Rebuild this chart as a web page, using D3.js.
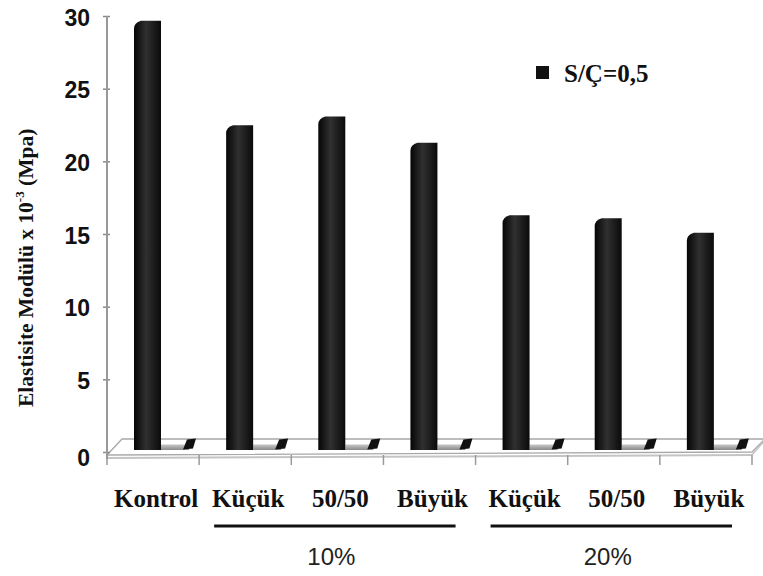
<!DOCTYPE html>
<html>
<head>
<meta charset="utf-8">
<script src="https://cdn.jsdelivr.net/npm/d3@7"></script>
<style>
  body { margin: 0; background: #fff; }
  svg { display: block; }
</style>
</head>
<body>
<div id="chart"></div>
<script>
// values
var categories = ["Kontrol", "Küçük", "50/50", "Büyük", "Küçük ", "50/50 ", "Büyük "],
	labels = ["Kontrol", "Küçük", "50/50", "Büyük", "Küçük", "50/50", "Büyük"],
	series1 = [29.2, 22.0, 22.6, 20.8, 15.8, 15.6, 14.6],   // S/Ç=0,5
	series2 = [0.45, 0.45, 0.45, 0.45, 0.45, 0.45, 0.45],   // near-empty back series
	groups = [{name: "10%", from: 1, to: 3}, {name: "20%", from: 4, to: 6}],
	yTicks = [0, 5, 10, 15, 20, 25, 30],
	legendLabel = "S/Ç=0,5";

var width = 763,
	height = 576;

var svg = d3.select('#chart')
	.append('svg')
	.attr('width', width)
	.attr('height', height);

var x = d3.scaleBand()
	.domain(categories)
	.range([107, 752])
	.paddingInner(0)
	.paddingOuter(0);

var y = d3.scaleLinear()
	.domain([0, 30])
	.range([452, 16]);

var bw = x.bandwidth();

var defs = svg.append('defs');
var grad = defs.append('linearGradient').attr('id', 'barGrad');
grad.append('stop').attr('offset', '0%').attr('stop-color', '#050505');
grad.append('stop').attr('offset', '45%').attr('stop-color', '#303030');
grad.append('stop').attr('offset', '100%').attr('stop-color', '#0a0a0a');
var grad2 = defs.append('linearGradient').attr('id', 'greyGrad').attr('x2', 0).attr('y2', 1);
grad2.append('stop').attr('offset', '0%').attr('stop-color', '#c8c8c8');
grad2.append('stop').attr('offset', '100%').attr('stop-color', '#8a8a8a');

// floor of the 3d plot
var x0 = x.range()[0], x1 = x.range()[1];
var floorFront = y(0) + 3, floorBack = y(0) - 13;
svg.append('path')
	.attr('d', 'M' + x0 + ',' + floorFront + 'L' + (x0 + 15) + ',' + floorBack +
		'L' + (x1 + 13) + ',' + floorBack + 'L' + x1 + ',' + (floorFront - 3) + 'Z')
	.style('fill', '#fff')
	.style('stroke', '#a8a8a8')
	.style('stroke-width', 1.3);
svg.append('line')
	.attr('x1', x0).attr('y1', floorFront + 3)
	.attr('x2', x1).attr('y2', floorFront)
	.style('stroke', '#c4c4c4')
	.style('stroke-width', 2);
svg.append('line')
	.attr('x1', x1).attr('y1', floorFront)
	.attr('x2', x1 + 13).attr('y2', floorBack + 1)
	.style('stroke', '#c4c4c4')
	.style('stroke-width', 1.5);

// category ticks on the front edge
svg.selectAll('.xtick')
	.data(categories.concat(['end']))
	.enter()
	.append('line')
	.attr('class', 'xtick')
	.attr('x1', function(d, i) { return x0 + i * bw; })
	.attr('x2', function(d, i) { return x0 + i * bw; })
	.attr('y1', floorFront)
	.attr('y2', floorFront + 10)
	.style('stroke', '#9a9a9a')
	.style('stroke-width', 1.5);

// back series: flat grey slabs with dark caps
var g2 = svg.append('g');
g2.selectAll('rect')
	.data(series2)
	.enter()
	.append('rect')
	.attr('x', function(d, i) { return x(categories[i]) + 54; })
	.attr('y', function(d) { return y(d) - 1; })
	.attr('width', 28)
	.attr('height', function(d) { return y(0) - y(d) - 1; })
	.style('fill', 'url(#greyGrad)');
g2.selectAll('path')
	.data(series2)
	.enter()
	.append('path')
	.attr('d', function(d, i) {
		var bx = x(categories[i]) + 76, by = y(d);
		return 'M' + bx + ',' + (by + 4) + 'L' + (bx + 4) + ',' + (by - 6) +
			'L' + (bx + 13) + ',' + (by - 7) + 'L' + (bx + 10) + ',' + (by + 3) + 'Z';
	})
	.style('fill', '#111');

// main series bars
var g1 = svg.append('g');
g1.selectAll('path')
	.data(series1)
	.enter()
	.append('path')
	.attr('d', function(d, i) {
		var bx = x(categories[i]) + 27, w = 27, top = y(d), bot = y(0) - 2;
		return 'M' + bx + ',' + bot + 'L' + bx + ',' + (top + 1) +
			'Q' + bx + ',' + (top - 5) + ' ' + (bx + 7) + ',' + (top - 7) +
			'L' + (bx + w) + ',' + (top - 7) + 'L' + (bx + w) + ',' + bot + 'Z';
	})
	.style('fill', 'url(#barGrad)');

// y axis
var yAxis = d3.axisLeft(y)
	.tickValues(yTicks)
	.tickSize(4)
	.tickPadding(13);
var ga = svg.append('g')
	.attr('transform', 'translate(107,0)')
	.call(yAxis);
ga.select('.domain').remove();
ga.selectAll('.tick line')
	.attr('x2', -4).attr('x1', 3)
	.style('stroke', '#888')
	.style('stroke-width', 1.5);
ga.selectAll('.tick text')
	.attr('dy', function(d) { return d === 0 ? '0.6em' : '0.4em'; })
	.style('font-family', '"Liberation Sans", Arial, sans-serif')
	.style('font-weight', 'bold')
	.style('font-size', '23px')
	.style('fill', '#111');
svg.append('line')
	.attr('x1', 107).attr('x2', 107)
	.attr('y1', y(30)).attr('y2', floorFront + 4)
	.style('stroke', '#999')
	.style('stroke-width', 2);

// y title, starts at the bottom and runs upwards
var title = svg.append('text')
	.attr('transform', 'translate(33,407) rotate(-90)')
	.attr('text-anchor', 'start')
	.style('font-family', '"Liberation Serif", "Times New Roman", serif')
	.style('font-weight', 'bold')
	.style('font-size', '21.5px')
	.style('fill', '#111');
title.append('tspan').text('Elastisite Modülü x 10');
title.append('tspan').attr('dy', -9).style('font-size', '13px').text('-3');
title.append('tspan').attr('dy', 9).text(' (Mpa)');

// category labels
svg.selectAll('.xlabel')
	.data(labels)
	.enter()
	.append('text')
	.attr('class', 'xlabel')
	.attr('x', function(d, i) { return x(categories[i]) + bw / 2 + 3; })
	.attr('y', 507)
	.attr('text-anchor', 'middle')
	.style('font-family', '"Liberation Serif", "Times New Roman", serif')
	.style('font-weight', 'bold')
	.style('font-size', '25px')
	.style('fill', '#111')
	.text(function(d) { return d; });

// group lines and labels
var gg = svg.selectAll('.group')
	.data(groups)
	.enter()
	.append('g')
	.attr('class', 'group');
gg.append('line')
	.attr('x1', function(d) { return x(categories[d.from]) + 15; })
	.attr('x2', function(d) { return x(categories[d.to]) + bw - 20; })
	.attr('y1', 526).attr('y2', 526)
	.style('stroke', '#111')
	.style('stroke-width', 3);
gg.append('text')
	.attr('x', function(d) { return (x(categories[d.from]) + x(categories[d.to]) + bw) / 2 - 6; })
	.attr('y', 565)
	.attr('text-anchor', 'middle')
	.style('font-family', '"Liberation Sans", Arial, sans-serif')
	.style('font-size', '24px')
	.style('fill', '#222')
	.text(function(d) { return d.name; });

// legend
var legend = svg.append('g').attr('transform', 'translate(536,66)');
legend.append('rect')
	.attr('width', 13).attr('height', 13)
	.style('fill', '#111');
legend.append('text')
	.attr('x', 28).attr('y', 16)
	.style('font-family', '"Liberation Serif", "Times New Roman", serif')
	.style('font-weight', 'bold')
	.style('font-size', '25px')
	.style('fill', '#111')
	.text(legendLabel);
</script>
</body>
</html>
